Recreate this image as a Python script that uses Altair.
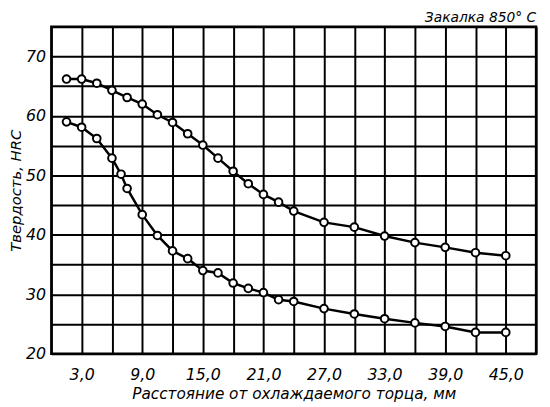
import altair as alt
import pandas as pd

# Upper curve
dist_upper = [1.5, 3.0, 4.5, 6.0, 7.5, 9.0, 10.5, 12.0, 13.5, 15.0, 16.5, 18.0, 19.5,
              21.0, 22.5, 24.0, 27.0, 30.0, 33.0, 36.0, 39.0, 42.0, 45.0]
hrc_upper = [66.2, 66.2, 65.5, 64.3, 63.1, 62.0, 60.2, 58.9, 57.0, 55.1, 52.9, 50.7, 48.6,
             46.8, 45.5, 44.0, 42.1, 41.3, 39.8, 38.7, 37.9, 37.0, 36.5]

# Lower curve
dist_lower = [1.5, 3.0, 4.5, 6.0, 6.9, 7.5, 9.0, 10.5, 12.0, 13.5, 15.0, 16.5, 18.0, 19.5,
              21.0, 22.5, 24.0, 27.0, 30.0, 33.0, 36.0, 39.0, 42.0, 45.0]
hrc_lower = [59.0, 58.1, 56.2, 52.9, 50.2, 47.8, 43.4, 39.9, 37.3, 36.0, 34.0, 33.6, 31.9, 31.0,
             30.3, 29.1, 28.8, 27.6, 26.7, 25.9, 25.2, 24.6, 23.6, 23.6]

x_grid = [0, 3, 6, 9, 12, 15, 18, 21, 24, 27, 30, 33, 36, 39, 42, 45, 48]
y_grid = [20, 25, 30, 35, 40, 45, 50, 55, 60, 65, 70, 75]

title_text = "Закалка 850° С"
x_title = "Расстояние от охлаждаемого торца, мм"
y_title = "Твердость, HRC"

df = pd.concat([
    pd.DataFrame({"d": dist_upper, "h": hrc_upper, "s": "upper"}),
    pd.DataFrame({"d": dist_lower, "h": hrc_lower, "s": "lower"}),
])

FONT = "DejaVu Sans"

x_enc = alt.X("d:Q",
              scale=alt.Scale(domain=[0, 48], nice=False, zero=False),
              axis=alt.Axis(values=x_grid, grid=True, ticks=False, domain=False,
                            labelExpr="(datum.value - 3) % 6 == 0 ? replace(format(datum.value, '.1f'), '.', ',') : ''",
                            labelPadding=13, titlePadding=4, titleFontSize=15.5, title=x_title))
y_enc = alt.Y("h:Q",
              scale=alt.Scale(domain=[20, 75], nice=False, zero=False),
              axis=alt.Axis(values=y_grid, grid=True, ticks=False, domain=False,
                            labelExpr="datum.value % 10 == 0 && datum.value < 75 ? datum.value : ''",
                            labelPadding=6, titlePadding=2, titleFontSize=15, title=y_title))

base = alt.Chart(df)
lines = base.mark_line(color="black", strokeWidth=2.5).encode(x=x_enc, y=y_enc, detail="s:N")
points = base.mark_point(shape="circle", filled=True, fill="white", stroke="black",
                         strokeWidth=2, size=60, opacity=1).encode(x=x_enc, y=y_enc, detail="s:N")

chart = (lines + points).properties(
    width=492, height=332,
    title=alt.TitleParams(title_text, anchor="end", fontStyle="italic", font=FONT,
                          fontSize=14, fontWeight="normal", offset=2, color="black"),
    autosize=alt.AutoSizeParams(type="none"),
    padding={"left": 44, "top": 16, "right": 6, "bottom": 51},
).configure_view(
    stroke="black", strokeWidth=2.5
).configure_axis(
    gridColor="black", gridWidth=2, gridOpacity=1,
    labelFont=FONT, labelFontStyle="italic", labelFontSize=16, labelColor="black",
    titleFont=FONT, titleFontStyle="italic", titleFontWeight="normal",
    titleColor="black",
)

chart.save("out.html", embed_options={"renderer": "svg", "actions": False})
